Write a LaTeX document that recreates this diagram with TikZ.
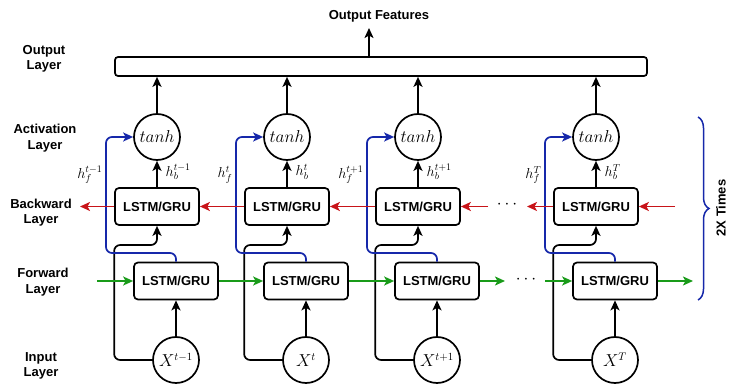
\documentclass[tikz,border=0pt]{standalone}
\usepackage{fontspec}
\setmainfont{Liberation Sans}
\usetikzlibrary{arrows.meta,decorations.pathreplacing,calc}
\definecolor{cblue}{RGB}{22,40,170}
\definecolor{cred}{RGB}{200,20,25}
\definecolor{cgreen}{RGB}{25,155,25}
\begin{document}
\begin{tikzpicture}[x=1pt,y=-1pt,
  lstm/.style={draw, rounded corners=4pt, line width=1.7pt, minimum width=84pt, minimum height=37pt, inner sep=0pt, font=\fontsize{13}{15}\selectfont\bfseries},
  tcirc/.style={draw, circle, line width=1.7pt, minimum size=46pt, inner sep=0pt, font=\fontsize{16}{19}\selectfont},
  arr/.style={line width=1.7pt, -{Stealth[length=10pt,width=9pt,inset=2.5pt]}},
  barr/.style={arr, cblue},
  rarr/.style={arr, cred},
  garr/.style={arr, cgreen},
  lbl/.style={font=\fontsize{13}{15.5}\selectfont\bfseries, align=center, inner sep=0pt},
  hl/.style={font=\fontsize{14}{16}\selectfont, inner sep=0.5pt},
  dotsn/.style={font=\fontsize{16}{18}\selectfont, inner sep=0pt}]
\useasboundingbox (0,0) rectangle (729,385);

% output layer
\node[draw, rounded corners=3pt, line width=1.7pt, minimum width=532pt, minimum height=19pt, inner sep=0pt] (out) at (381,66.5) {};
\coordinate (of) at (369,28);
\draw[arr] (out.north -| of) -- (of);
\node[lbl] (oft) at (379,16) {Output Features};

% layer labels
\node[lbl] (l1) at (44,59) {Output\\Layer};
\node[lbl] (l2) at (45,138) {Activation\\Layer};
\node[lbl] (l3) at (41,212.5) {Backward\\Layer};
\node[lbl] (l4) at (43,282) {Forward\\Layer};
\node[lbl] (l5) at (41,366) {Input\\Layer};

% columns
\foreach \i/\x/\s in {1/157/t-1,2/287/t,3/418/t+1,4/596/T}{
  \node[tcirc] (t\i) at (\x,137) {$tanh$};
  \node[lstm] (b\i) at (\x,206.5) {LSTM/GRU};
  \node[lstm] (f\i) at (\x+19,281) {LSTM/GRU};
  \node[tcirc] (x\i) at (\x+19,360) {$X^{\s}$};
  \coordinate (bl\i) at (\x-51,253);
  \coordinate (hy\i) at (\x,245);
  \draw[arr] (t\i.north) -- (t\i.north |- out.south);
  \draw[arr] (b\i.north) -- (t\i.south);
  \draw[arr] (x\i.north) -- (f\i.south);
  \draw[arr, rounded corners=6pt] (x\i.west) -| (b\i.west |- hy\i) -| (b\i.south);
  \draw[barr, rounded corners=6pt] (f\i.north) |- (bl\i) |- (t\i.west);
  \node[hl, anchor=west] (hb\i) at (\x+8,172) {$h_b^{\s}$};
  \node[hl, anchor=east] (hf\i) at (\x-54,175) {$h_f^{\s}$};
}

% backward (red) connections
\coordinate (rl) at (80,206.5);
\coordinate (r3) at (488,206.5);
\coordinate (r4) at (527,206.5);
\coordinate (rr) at (675,206.5);
\draw[rarr] (b1.west) -- (rl);
\draw[rarr] (b2.west) -- (b1.east);
\draw[rarr] (b3.west) -- (b2.east);
\draw[rarr] (r3) -- (b3.east);
\node[dotsn] (rd) at (507,205) {$\cdots$};
\draw[rarr] (b4.west) -- (r4);
\draw[rarr] (rr) -- (b4.east);

% forward (green) connections
\coordinate (gl) at (97,281);
\coordinate (g3) at (505,281);
\coordinate (g4) at (545,281);
\coordinate (gr) at (693,281);
\draw[garr] (gl) -- (f1.west);
\draw[garr] (f1.east) -- (f2.west);
\draw[garr] (f2.east) -- (f3.west);
\draw[garr] (f3.east) -- (g3);
\node[dotsn] (gd) at (526,279.5) {$\cdots$};
\draw[garr] (g4) -- (f4.west);
\draw[garr] (f4.east) -- (gr);

% brace
\coordinate (bra) at (698,117);
\coordinate (brb) at (698,300);
\draw[cblue, line width=1.5pt, decorate, decoration={brace, amplitude=11pt}] (bra) -- (brb);
\node[lbl, rotate=90] (twox) at (721,208) {2X Times};
\end{tikzpicture}
\end{document}
